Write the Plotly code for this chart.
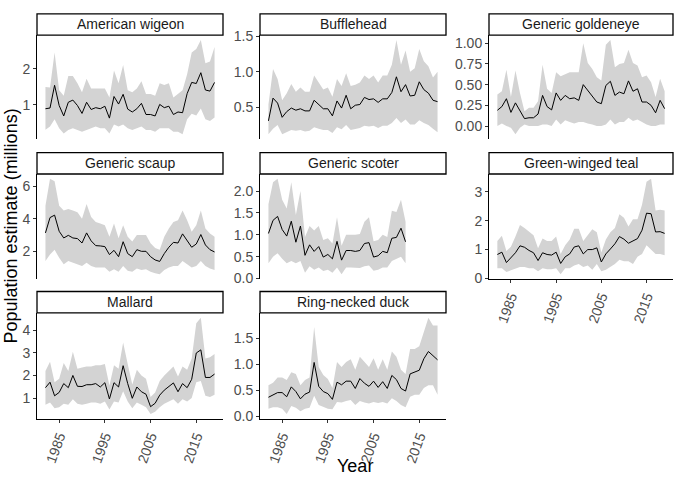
import plotly.graph_objects as go

W, H = 677, 484

years = list(range(1982, 2020))
years_scoter = list(range(1982, 2013))

species = ["American wigeon", "Bufflehead", "Generic goldeneye",
           "Generic scaup", "Generic scoter", "Green-winged teal",
           "Mallard", "Ring-necked duck"]

wigeon_mean = [0.89,0.91,1.54,0.98,0.69,1.07,1.13,0.98,0.76,1.07,
               0.87,0.92,0.89,0.96,0.63,1.23,1.02,1.29,0.88,0.80,
               0.89,1.04,0.73,0.73,0.69,1.01,0.92,0.96,0.73,0.80,
               0.78,1.31,1.62,1.59,1.89,1.41,1.38,1.62]
wigeon_upper = [1.49,1.48,2.45,1.40,1.25,1.80,1.80,1.60,1.35,1.72,
                1.45,1.45,1.45,1.45,1.20,1.95,1.60,2.10,1.40,1.35,
                1.45,1.65,1.30,1.30,1.25,1.60,1.55,1.60,1.20,1.30,
                1.40,1.85,2.45,2.55,2.80,2.15,2.20,2.60]
wigeon_lower = [0.31,0.40,0.60,0.35,0.20,0.30,0.35,0.30,0.25,0.30,
                0.35,0.40,0.35,0.35,0.20,0.45,0.40,0.45,0.35,0.30,
                0.35,0.40,0.30,0.30,0.25,0.35,0.35,0.35,0.25,0.25,
                0.18,0.60,0.75,0.70,0.90,0.60,0.55,0.65]

buffle_mean = [0.31,0.63,0.56,0.36,0.44,0.49,0.46,0.48,0.45,0.45,
               0.60,0.54,0.48,0.48,0.38,0.59,0.49,0.67,0.48,0.53,
               0.54,0.64,0.61,0.62,0.57,0.62,0.62,0.71,0.93,0.72,
               0.82,0.66,0.67,0.86,0.75,0.70,0.60,0.58]
buffle_upper = [0.54,1.04,0.90,0.60,0.70,0.83,0.72,0.78,0.72,0.72,
                0.95,0.85,0.75,0.78,0.65,0.90,0.80,0.98,0.80,0.82,
                0.85,0.95,0.90,0.95,0.85,0.95,0.95,1.10,1.45,1.10,
                1.30,1.00,1.05,1.32,1.15,1.08,0.92,1.00]
buffle_lower = [0.12,0.20,0.25,0.12,0.15,0.18,0.17,0.18,0.16,0.17,
                0.22,0.20,0.18,0.18,0.14,0.22,0.19,0.25,0.18,0.20,
                0.21,0.24,0.23,0.24,0.21,0.24,0.24,0.28,0.35,0.28,
                0.33,0.26,0.26,0.32,0.28,0.25,0.20,0.15]

golden_mean = [0.19,0.235,0.33,0.165,0.28,0.185,0.09,0.10,0.10,0.145,
               0.37,0.235,0.195,0.40,0.31,0.37,0.33,0.34,0.31,0.50,
               0.43,0.36,0.29,0.27,0.49,0.54,0.37,0.41,0.39,0.545,
               0.42,0.45,0.29,0.29,0.25,0.16,0.31,0.21]
golden_upper = [0.38,0.42,0.68,0.35,0.67,0.40,0.18,0.22,0.22,0.30,
                0.74,0.45,0.40,0.65,0.60,0.63,0.65,0.65,0.65,1.00,
                0.76,0.69,0.59,0.55,0.98,1.04,0.71,0.75,0.76,0.92,
                0.76,0.73,0.59,0.61,0.53,0.35,0.57,0.42]
golden_lower = [0.00,0.03,0.00,-0.02,-0.10,-0.02,0.02,0.00,0.00,0.00,
                0.02,0.02,0.00,0.08,0.02,0.07,0.05,0.03,0.05,0.05,
                0.03,0.02,0.00,0.00,0.02,0.08,0.02,0.05,0.05,0.10,
                0.06,0.08,0.05,0.02,0.00,0.00,0.02,0.02]

scaup_mean = [3.13,4.07,4.22,3.23,2.82,2.98,2.82,2.78,2.51,3.13,
              2.64,2.35,2.33,2.29,1.80,2.06,1.67,2.59,1.86,1.67,
              2.10,2.00,2.00,1.67,1.47,1.38,1.86,2.25,2.55,2.51,
              3.07,2.64,2.25,2.45,3.03,2.39,2.10,1.96]
scaup_upper = [4.8,6.45,6.3,4.8,4.5,4.6,4.5,4.4,4.0,4.9,
               4.1,3.8,3.7,3.6,2.9,3.7,2.8,3.6,2.9,2.6,
               3.0,3.0,3.0,2.5,2.2,2.1,2.9,3.4,3.8,3.9,
               4.5,3.9,3.2,3.6,4.5,3.4,3.1,2.9]
scaup_lower = [1.4,1.8,2.1,1.6,1.2,1.4,1.3,1.2,1.1,1.3,
               1.1,1.0,1.0,1.0,0.75,0.9,0.75,1.1,0.8,0.75,
               0.95,0.85,0.9,0.75,0.65,0.6,0.85,1.0,1.1,1.1,
               1.4,1.2,1.0,1.1,1.4,1.1,0.95,0.85]

scoter_mean = [1.03,1.33,1.42,1.12,0.97,1.31,0.83,1.20,0.53,0.77,
               0.62,0.73,0.49,0.55,0.45,0.85,0.42,0.64,0.64,0.62,
               0.64,0.80,0.82,0.49,0.52,0.62,0.59,0.92,0.94,1.15,
               0.84]
scoter_upper = [1.70,2.20,2.28,1.80,1.60,2.20,1.45,2.00,0.95,1.20,
                1.10,1.20,0.88,0.92,0.80,1.40,0.75,1.00,1.00,1.00,
                1.02,1.30,1.40,0.85,0.88,1.00,0.95,1.55,1.52,1.80,
                1.30]
scoter_lower = [0.35,0.50,0.58,0.45,0.35,0.40,0.35,0.40,0.13,0.28,
                0.20,0.25,0.17,0.20,0.13,0.25,0.10,0.25,0.25,0.25,
                0.24,0.28,0.30,0.18,0.20,0.25,0.25,0.40,0.45,0.50,
                0.35]

teal_mean = [0.83,0.91,0.55,0.72,0.89,1.13,1.08,0.97,0.89,0.62,
             0.89,0.83,0.81,0.91,0.52,0.75,0.85,1.09,1.13,0.85,
             1.00,1.00,1.06,0.57,0.85,1.02,1.20,1.45,1.36,1.22,
             1.31,1.38,1.67,2.26,2.24,1.61,1.62,1.56]
teal_upper = [1.30,1.48,0.95,1.10,1.45,1.85,1.75,1.62,1.50,1.05,
              1.38,1.30,1.30,1.45,0.85,1.15,1.35,1.72,1.72,1.30,
              1.50,1.70,1.60,0.90,1.35,1.60,1.75,2.22,2.10,1.80,
              2.05,2.05,2.55,3.35,3.45,2.35,2.38,2.35]
teal_lower = [0.35,0.35,0.22,0.28,0.35,0.40,0.40,0.35,0.35,0.25,
              0.35,0.32,0.32,0.35,0.15,0.35,0.35,0.45,0.50,0.40,
              0.45,0.30,0.50,0.25,0.30,0.40,0.50,0.65,0.60,0.60,
              0.50,0.75,0.85,1.15,1.00,0.85,0.85,0.80]

mallard_mean = [1.46,1.70,1.10,1.25,1.64,1.46,2.00,1.52,1.51,1.59,
                1.59,1.64,1.49,1.68,0.96,1.68,1.49,2.43,1.64,0.99,
                1.49,1.28,1.17,0.62,0.77,1.13,1.35,1.49,1.67,1.28,
                1.64,1.46,1.83,2.99,3.13,1.91,1.91,2.06]
mallard_upper = [2.20,2.60,1.70,1.85,2.55,2.20,3.05,2.30,2.35,2.40,
                 2.40,2.45,2.45,2.50,1.55,2.45,2.30,3.45,2.50,1.60,
                 2.25,2.00,1.85,1.05,1.25,1.75,2.00,2.20,2.40,1.95,
                 2.40,2.25,2.75,4.30,4.55,2.75,2.80,2.95]
mallard_lower = [0.70,0.80,0.55,0.60,0.75,0.70,0.95,0.75,0.70,0.75,
                 0.80,0.80,0.75,0.85,0.50,0.85,0.80,1.30,0.85,0.55,
                 0.80,0.70,0.60,0.30,0.40,0.60,0.75,0.85,0.95,0.75,
                 0.95,0.85,1.00,1.70,1.75,1.10,1.05,1.15]

ring_mean = [0.37,0.42,0.46,0.46,0.38,0.57,0.48,0.34,0.43,0.47,
             1.04,0.58,0.48,0.44,0.33,0.66,0.61,0.68,0.68,0.54,
             0.73,0.64,0.58,0.68,0.56,0.67,0.54,0.79,0.71,0.54,
             0.49,0.82,0.86,0.89,1.11,1.25,1.17,1.09]
ring_upper = [0.60,0.65,0.75,0.75,0.70,0.85,0.82,0.60,0.70,0.75,
              1.72,0.95,0.80,0.72,0.55,1.05,0.95,1.05,1.10,0.90,
              1.15,1.05,0.95,1.12,0.90,1.10,0.90,1.25,1.15,0.90,
              0.82,1.30,1.30,1.35,1.65,1.90,1.75,1.75]
ring_lower = [0.15,0.18,0.18,0.15,0.05,0.20,0.17,0.10,0.15,0.17,
              0.40,0.22,0.18,0.15,0.14,0.28,0.27,0.30,0.32,0.22,
              0.30,0.27,0.25,0.28,0.26,0.28,0.25,0.35,0.30,0.22,
              0.18,0.38,0.42,0.42,0.55,0.60,0.60,0.42]

x_tickvals = [1985, 1995, 2005, 2015]
x_ticktext = ["1985", "1995", "2005", "2015"]

y_ticks = {
    "American wigeon": ([1, 2], ["1", "2"]),
    "Bufflehead": ([0.5, 1.0, 1.5], ["0.5", "1.0", "1.5"]),
    "Generic goldeneye": ([0, 0.25, 0.5, 0.75, 1.0], ["0.00", "0.25", "0.50", "0.75", "1.00"]),
    "Generic scaup": ([2, 4, 6], ["2", "4", "6"]),
    "Generic scoter": ([0, 0.5, 1.0, 1.5, 2.0], ["0.0", "0.5", "1.0", "1.5", "2.0"]),
    "Green-winged teal": ([0, 1, 2, 3], ["0", "1", "2", "3"]),
    "Mallard": ([1, 2, 3, 4], ["1", "2", "3", "4"]),
    "Ring-necked duck": ([0, 0.5, 1.0, 1.5], ["0.0", "0.5", "1.0", "1.5"]),
}

series = {
    "American wigeon": (years, wigeon_mean, wigeon_lower, wigeon_upper),
    "Bufflehead": (years, buffle_mean, buffle_lower, buffle_upper),
    "Generic goldeneye": (years, golden_mean, golden_lower, golden_upper),
    "Generic scaup": (years, scaup_mean, scaup_lower, scaup_upper),
    "Generic scoter": (years_scoter, scoter_mean, scoter_lower, scoter_upper),
    "Green-winged teal": (years, teal_mean, teal_lower, teal_upper),
    "Mallard": (years, mallard_mean, mallard_lower, mallard_upper),
    "Ring-necked duck": (years, ring_mean, ring_lower, ring_upper),
}

# layout in pixels
col_px = [(37, 223), (260, 446), (489, 673)]
row_px = [(29, 136), (172, 280), (315, 424)]   # panel top, bottom
strip_h = 22
bottom_panels = {"Green-winged teal", "Mallard", "Ring-necked duck"}

FONT = "Liberation Sans, Arial, sans-serif"
fig = go.Figure()
shapes, annotations = [], []

xmin, xmax = 1982, 2019
xpad = (xmax - xmin) * 0.05

for i, name in enumerate(species):
    r, c = divmod(i, 3)
    x0, x1 = col_px[c]
    y0, y1 = row_px[r]
    ax = "" if i == 0 else str(i + 1)
    xr, yr = "x" + ax, "y" + ax
    yrs, mean, lo, hi = series[name]
    fig.add_trace(go.Scatter(x=list(yrs) + list(yrs)[::-1], y=list(hi) + list(lo)[::-1],
                             fill="toself", fillcolor="#D3D3D3", line=dict(width=0),
                             mode="lines", hoverinfo="skip", showlegend=False,
                             xaxis=xr, yaxis=yr))
    fig.add_trace(go.Scatter(x=yrs, y=mean, mode="lines",
                             line=dict(color="black", width=1), showlegend=False,
                             xaxis=xr, yaxis=yr))
    lo_v, hi_v = min(lo), max(hi)
    pad = (hi_v - lo_v) * 0.05
    tv, tt = y_ticks[name]
    is_bottom = name in bottom_panels
    fig.layout["xaxis" + ax] = dict(
        domain=[x0 / W, x1 / W], anchor=yr, range=[xmin - xpad, xmax + xpad],
        showgrid=False, zeroline=False,
        showline=is_bottom, linecolor="black", linewidth=1,
        ticks="outside" if is_bottom else "", ticklen=3, tickwidth=1, tickcolor="#333333",
        tickvals=x_tickvals, ticktext=x_ticktext, showticklabels=is_bottom,
        tickangle=-70, tickfont=dict(family=FONT, size=14, color="#4D4D4D"),
    )
    fig.layout["yaxis" + ax] = dict(
        domain=[1 - y1 / H, 1 - y0 / H], anchor=xr, range=[lo_v - pad, hi_v + pad],
        showgrid=False, zeroline=False, showline=True, linecolor="black", linewidth=1,
        ticks="outside", ticklen=3, tickwidth=1, tickcolor="#333333",
        tickvals=tv, ticktext=tt,
        tickfont=dict(family=FONT, size=14, color="#4D4D4D"),
    )
    # strip
    shapes.append(dict(type="rect", xref="paper", yref="paper",
                       x0=x0 / W, x1=x1 / W, y0=1 - y0 / H, y1=1 - (y0 - strip_h) / H,
                       fillcolor="white", line=dict(color="black", width=1.3)))
    annotations.append(dict(text=name, xref="paper", yref="paper",
                            x=(x0 + x1) / 2 / W, y=1 - (y0 - strip_h / 2) / H,
                            showarrow=False, xanchor="center", yanchor="middle",
                            font=dict(family=FONT, size=14, color="#1A1A1A")))

annotations.append(dict(text="Population estimate (millions)", xref="paper", yref="paper",
                        x=11 / W, y=1 - 226 / H, textangle=-90, showarrow=False,
                        xanchor="center", yanchor="middle",
                        font=dict(family=FONT, size=18, color="black")))
annotations.append(dict(text="Year", xref="paper", yref="paper",
                        x=355 / W, y=1 - 473 / H, showarrow=False,
                        xanchor="center", yanchor="middle",
                        font=dict(family=FONT, size=18, color="black")))

fig.update_layout(width=W, height=H, margin=dict(l=0, r=0, t=0, b=0),
                  paper_bgcolor="white", plot_bgcolor="white",
                  shapes=shapes, annotations=annotations, showlegend=False)

fig.write_html("out.html")
